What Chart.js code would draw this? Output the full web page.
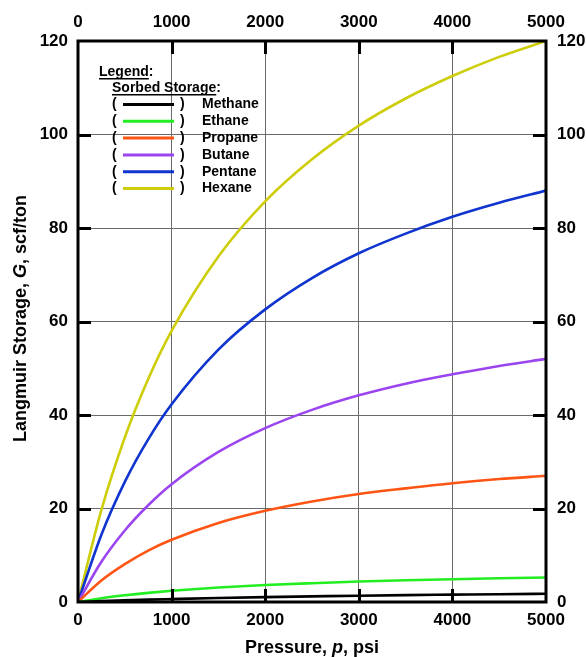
<!DOCTYPE html>
<html>
<head>
<meta charset="utf-8">
<script src="https://cdn.jsdelivr.net/npm/chart.js@4/dist/chart.umd.min.js"></script>
<style>
    html, body { margin: 0; padding: 0; background: #ffffff; }
    #wrap { width: 586px; height: 657px; }
</style>
</head>
<body>
<div id="wrap"><canvas id="chart_langmuir"></canvas></div>
<script>
// values
var pressure = [0, 250, 500, 750, 1000, 1500, 2000, 2500, 3000, 3500, 4000, 4500, 5000];
var methane = [0, 0.2, 0.35, 0.5, 0.62, 0.85, 1.05, 1.2, 1.35, 1.47, 1.57, 1.67, 1.75];
var ethane = [0, 0.8, 1.43, 1.96, 2.4, 3.1, 3.62, 4.02, 4.37, 4.65, 4.88, 5.08, 5.25];
var propane = [0, 4.6, 8.1, 11.0, 13.3, 16.9, 19.5, 21.5, 23.1, 24.3, 25.4, 26.3, 27.0];
var butane = [0, 8.6, 15.3, 20.7, 25.2, 32.1, 37.2, 41.1, 44.2, 46.7, 48.7, 50.5, 52.0];
var pentane = [0, 14.4, 25.7, 34.8, 42.3, 54.0, 62.6, 69.3, 74.6, 78.8, 82.4, 85.4, 88.0];
var hexane = [0, 19.7, 35.2, 47.7, 58.0, 73.9, 85.7, 94.7, 101.9, 107.7, 112.5, 116.6, 120.0];

var gasNames = ["Methane", "Ethane", "Propane", "Butane", "Pentane", "Hexane"];
var gasValues = [methane, ethane, propane, butane, pentane, hexane];
var gasColors = ["#000000", "#22ee22", "#ff5514", "#9b45f0", "#1034d0", "#cdcd0a"];

var FONT = '"Liberation Sans", Arial, sans-serif';

function toPoints(values) {
    var pts = [];
    for (var i = 0; i < pressure.length; ++i) {
        pts.push({x: pressure[i], y: values[i]});
    }
    return pts;
}

var datasets = [];
for (var i = 0; i < gasNames.length; ++i) {
    datasets.push({
        label: gasNames[i],
        data: toPoints(gasValues[i]),
        borderColor: gasColors[i],
        borderWidth: 2.6,
        pointRadius: 0,
        fill: false,
        cubicInterpolationMode: 'monotone'
    });
}

// draws pieces of text one after another, some in italics
function drawRuns(ctx, runs, x, y, size) {
    var total = 0;
    for (var i = 0; i < runs.length; ++i) {
        ctx.font = (runs[i][1] ? 'italic ' : '') + 'bold ' + size + 'px ' + FONT;
        total += ctx.measureText(runs[i][0]).width;
    }
    var cx = x - total / 2;
    for (var j = 0; j < runs.length; ++j) {
        ctx.font = (runs[j][1] ? 'italic ' : '') + 'bold ' + size + 'px ' + FONT;
        ctx.fillText(runs[j][0], cx, y);
        cx += ctx.measureText(runs[j][0]).width;
    }
}

function underlined(ctx, text, rest, x, y) {
    ctx.fillText(text + rest, x, y);
    var w = ctx.measureText(text).width;
    ctx.fillRect(x, y + 6, w, 1.5);
}

var framePlugin = {
    id: 'frame',
    afterDraw: function(chart) {
        var ctx = chart.ctx;
        var a = chart.chartArea;
        var sx = chart.scales.x;
        var sy = chart.scales.y;
        var tick = 13;

        ctx.save();
        ctx.strokeStyle = '#000000';
        ctx.lineWidth = 3;
        ctx.strokeRect(a.left, a.top, a.right - a.left, a.bottom - a.top);

        // inward tick marks on all four sides
        ctx.beginPath();
        for (var p = 1000; p < 5000; p += 1000) {
            var px = Math.round(sx.getPixelForValue(p)) + 0.5;
            ctx.moveTo(px, a.bottom); ctx.lineTo(px, a.bottom - tick);
            ctx.moveTo(px, a.top); ctx.lineTo(px, a.top + tick);
        }
        for (var v = 20; v < 120; v += 20) {
            var py = Math.round(sy.getPixelForValue(v)) + 0.5;
            ctx.moveTo(a.left, py); ctx.lineTo(a.left + tick, py);
            ctx.moveTo(a.right, py); ctx.lineTo(a.right - tick, py);
        }
        ctx.stroke();

        // axis titles
        ctx.fillStyle = '#000000';
        ctx.textBaseline = 'alphabetic';
        ctx.textAlign = 'left';
        drawRuns(ctx, [['Pressure, ', false], ['p', true], [', psi', false]],
            (a.left + a.right) / 2, 653, 18);
        ctx.save();
        ctx.translate(26, (a.top + a.bottom) / 2 - 3);
        ctx.rotate(-Math.PI / 2);
        drawRuns(ctx, [['Langmuir Storage, ', false], ['G', true], [', scf/ton', false]], 0, 0, 18);
        ctx.restore();

        // legend block
        ctx.font = 'bold 14px ' + FONT;
        ctx.textBaseline = 'middle';
        underlined(ctx, 'Legend', ':', 99, 72);
        underlined(ctx, 'Sorbed Storage', ':', 112, 88);
        for (var i = 0; i < chart.data.datasets.length; ++i) {
            var ds = chart.data.datasets[i];
            var ry = 104.5 + i * 16.8;
            ctx.fillStyle = '#000000';
            ctx.fillText('(', 112, ry);
            ctx.fillText(')', 180, ry);
            ctx.fillText(ds.label, 202, ry);
            ctx.strokeStyle = ds.borderColor;
            ctx.lineWidth = 3;
            ctx.beginPath();
            ctx.moveTo(123, ry);
            ctx.lineTo(174, ry);
            ctx.stroke();
        }
        ctx.restore();
    }
};

function plainLabel(value) {
    return String(value);
}

function tickOpts(step, pad) {
    return {
        stepSize: step,
        color: '#000',
        font: {family: FONT, size: 17, weight: 'bold'},
        padding: pad,
        maxRotation: 0,
        callback: plainLabel
    };
}

new Chart(document.getElementById('chart_langmuir'), {
    type: 'line',
    data: {datasets: datasets},
    plugins: [framePlugin],
    options: {
        responsive: true,
        maintainAspectRatio: false,
        animation: false,
        layout: {padding: 0},
        plugins: {
            legend: {display: false},
            tooltip: {enabled: false}
        },
        scales: {
            x: {
                type: 'linear', position: 'bottom', min: 0, max: 5000,
                ticks: tickOpts(1000, 8),
                grid: {color: '#6a6a6a', lineWidth: 1, drawTicks: false},
                border: {display: false},
                afterFit: function(scale) { scale.height = 55; }
            },
            x2: {
                type: 'linear', position: 'top', min: 0, max: 5000,
                ticks: tickOpts(1000, 8),
                grid: {display: false, drawTicks: false},
                border: {display: false},
                afterFit: function(scale) { scale.height = 41; }
            },
            y: {
                type: 'linear', position: 'left', min: 0, max: 120,
                ticks: tickOpts(20, 10),
                grid: {color: '#6a6a6a', lineWidth: 1, drawTicks: false},
                border: {display: false},
                afterFit: function(scale) { scale.width = 78; }
            },
            y2: {
                type: 'linear', position: 'right', min: 0, max: 120,
                ticks: tickOpts(20, 11),
                grid: {display: false, drawTicks: false},
                border: {display: false},
                afterFit: function(scale) { scale.width = 40; }
            }
        }
    }
});
</script>
</body>
</html>
